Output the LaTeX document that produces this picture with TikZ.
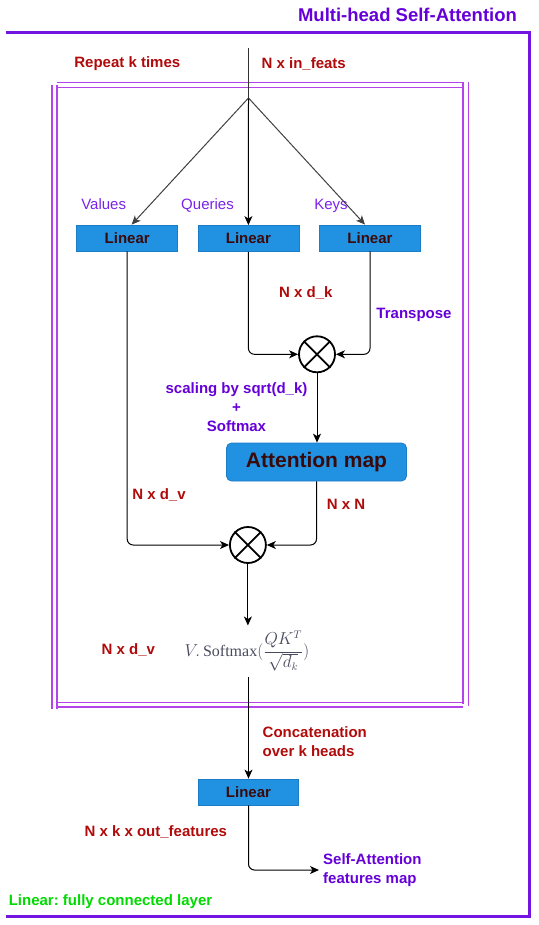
\documentclass[tikz,border=0pt]{standalone}
\usepackage{fontspec}
\setmainfont{Liberation Sans}
\newfontfamily\fmlserif{Liberation Serif}
\usetikzlibrary{arrows.meta,calc}
\definecolor{dred}{HTML}{B00A0A}
\definecolor{ppl}{HTML}{6500D8}
\definecolor{vpl}{HTML}{7A22E8}
\definecolor{frameout}{HTML}{7414E0}
\definecolor{framein}{HTML}{B444E8}
\definecolor{leggreen}{HTML}{00DA00}
\definecolor{boxblue}{HTML}{2191E2}
\definecolor{boxborder}{HTML}{1C7CC6}
\definecolor{boxtext}{HTML}{3A0A0A}
\definecolor{fmlgray}{HTML}{4A4A5E}
\frenchspacing
\begin{document}
\begin{tikzpicture}[x=1pt,y=-1pt,
  lin/.style={draw=boxborder, line width=0.8pt, fill=boxblue, minimum width=101pt, minimum height=26pt, inner sep=0pt, text=boxtext, font=\fontsize{15}{18}\selectfont\bfseries},
  attn/.style={draw=boxborder, line width=0.8pt, fill=boxblue, rounded corners=5pt, minimum width=180pt, minimum height=38pt, inner sep=0pt, text=boxtext, font=\fontsize{21}{24}\selectfont\bfseries},
  lab/.style={text=dred, inner sep=0pt, font=\fontsize{15}{19}\selectfont\bfseries},
  plab/.style={text=ppl, inner sep=0pt, font=\fontsize{15}{19}\selectfont\bfseries},
  vlab/.style={text=vpl, inner sep=0pt, text height=11pt, text depth=3pt, font=\fontsize{15}{18}\selectfont},
  conn/.style={draw=black, line width=1pt, rounded corners=6pt, -{Stealth[length=9pt,width=8pt,inset=2.5pt]}},
  plain/.style={draw=black!80, line width=1pt},
  mult/.style={circle, draw=black, line width=1.8pt, minimum size=36pt, inner sep=0pt},
  outframe/.style={draw=frameout, line width=3pt},
  inframe/.style={draw=framein, line width=1.6pt}
]
\useasboundingbox (0,0) rectangle (538,925);

% outer frame
\draw[outframe] (6,32.5) -- (529.3,32.5) -- (529.3,916) -- (6,916);
\node[text=ppl, inner sep=0pt, font=\fontsize{18.5}{22}\selectfont\bfseries] (title) at (407.5,15) {Multi-head Self-Attention};

% inner double frame
\draw[inframe] (56.7,82.7) -- (462.7,82.7);
\draw[inframe] (56.7,87.7) -- (462.7,87.7);
\draw[inframe] (56.7,702.3) -- (462.7,702.3);
\draw[inframe] (56.7,706.7) -- (462.7,706.7);
\draw[inframe] (51.7,85) -- (51.7,709);
\draw[inframe] (56.7,85) -- (56.7,709);
\draw[inframe] (462.7,82) -- (462.7,704);
\draw[inframe] (468.3,82) -- (468.3,705.7);

% top labels
\node[lab] (rep) at (127.3,63.5) {Repeat k times};
\node[lab] (inp) at (303.7,63.5) {N x in\_feats};

\coordinate (src) at (248.5,48);
\coordinate (br) at (248.5,98);

% linear boxes
\node[lin] (vlin) at (127.2,238) {Linear};
\node[lin] (qlin) at (248.4,238.5) {Linear};
\node[lin] (klin) at (370,238) {Linear};
\node[vlab] (vlbl) at (103.7,206) {Values};
\node[vlab] (qlbl) at (207.5,206) {Queries};
\node[vlab] (klbl) at (331,206) {Keys};

% branching
\draw[plain] (src) -- (br);
\draw[conn, draw=black!75] (br) -- ([xshift=4.5pt]vlin.north);
\draw[conn] (br) -- (qlin.north);
\draw[conn, draw=black!75] (br) -- ([xshift=-5pt]klin.north);

% first multiplication
\node[mult] (m1) at (317,354.3) {};
\draw[line width=1.8pt] (m1.north west) -- (m1.south east) (m1.north east) -- (m1.south west);
\node[lab] (ndk) at (305.8,293.3) {N x d\_k};
\node[plab] (tr) at (414,315) {Transpose};
\draw[conn] (qlin.south) |- (m1.west);
\draw[conn] (klin.south) |- (m1.east);

\node[plab, align=center] (sc) at (236.5,407.5) {scaling by sqrt(d\_k)\\+\\Softmax};

% attention map
\node[attn] (att) at (316.5,462) {Attention map};
\draw[conn] (m1.south) -- (m1.south |- att.north);

% second multiplication
\node[mult] (m2) at (247.9,545) {};
\draw[line width=1.8pt] (m2.north west) -- (m2.south east) (m2.north east) -- (m2.south west);
\node[lab] (ndv1) at (159,495) {N x d\_v};
\node[lab] (nn) at (346,504) {N x N};
\draw[conn] (vlin.south) |- (m2.west);
\draw[conn] (att.south) |- (m2.east);

% formula
\node[text=fmlgray, inner xsep=0pt, inner ysep=5pt, font=\fontsize{16}{19}\selectfont] (fml) at (247,651) {$V.\,\mbox{\fmlserif Softmax}(\displaystyle\frac{QK^T}{\sqrt{d_k}})$};
\node[lab] (ndv2) at (128.3,650) {N x d\_v};
\draw[conn] (m2.south) -- (m2.south |- fml.north);

% final linear
\node[lin, minimum width=100pt] (flin) at (248.5,792) {Linear};
\draw[conn] (fml.south -| flin.north) -- (flin.north);
\node[lab, align=left, anchor=west] (cat) at (262.5,741.5) {Concatenation\\over k heads};
\node[lab] (nko) at (155.8,831.7) {N x k x out\_features};
\node[plab, align=left, anchor=west, inner xsep=4pt] (out) at (319,870) {Self-Attention\\features map};
\draw[conn] (flin.south) |- (out.west);

\node[text=leggreen, inner sep=0pt, font=\fontsize{15}{18}\selectfont\bfseries] (leg) at (110.5,902) {Linear: fully connected layer};
\end{tikzpicture}
\end{document}
